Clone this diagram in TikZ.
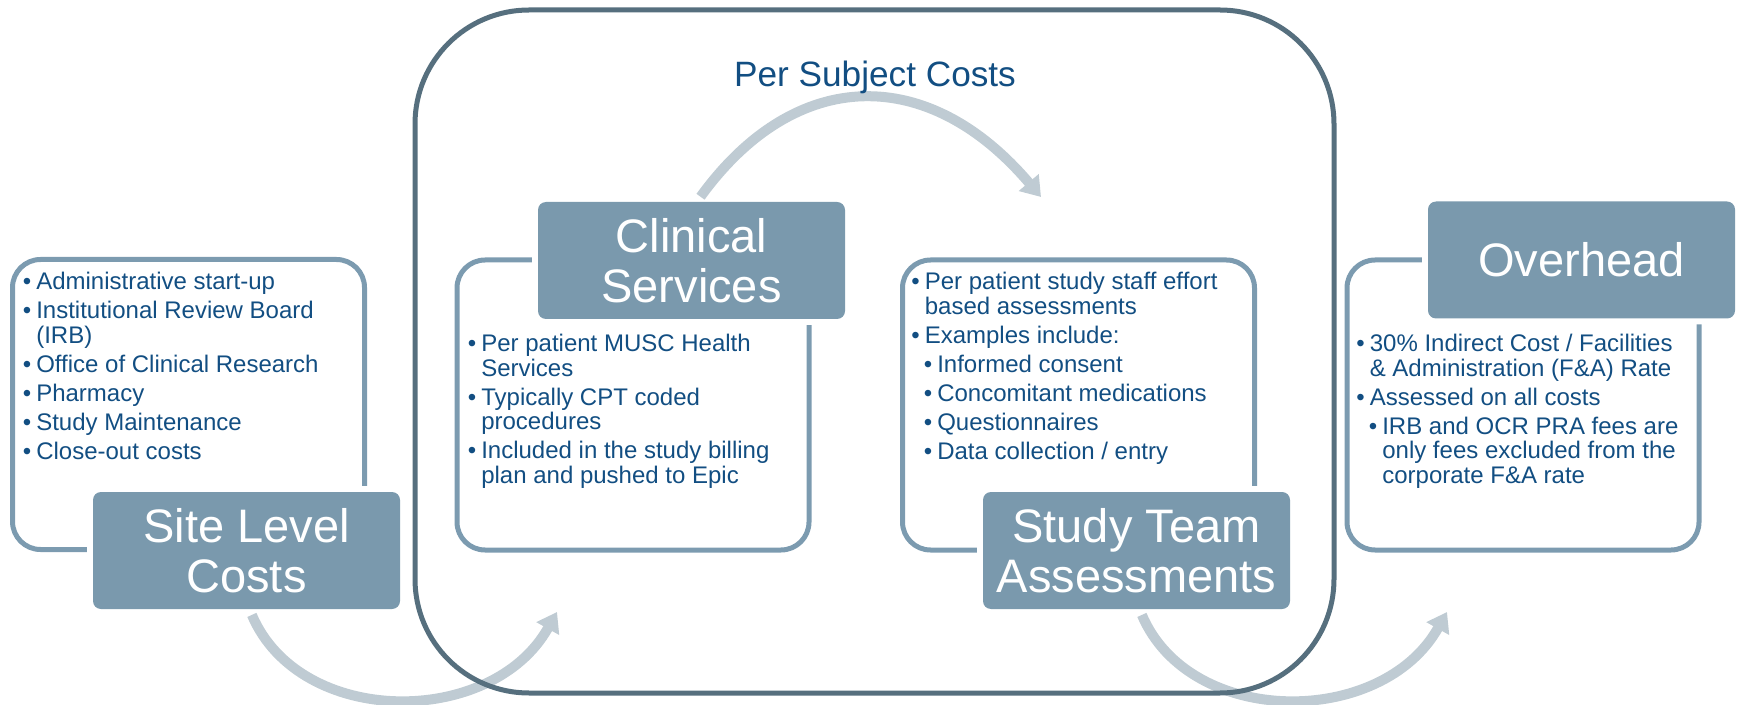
\documentclass[tikz,border=0pt]{standalone}
\usepackage{fontspec}
\setmainfont{Liberation Sans}
\usetikzlibrary{arrows.meta}
\definecolor{boxfill}{HTML}{7A99AD}
\definecolor{boxline}{HTML}{7C9BB0}
\definecolor{frameline}{HTML}{566F7E}
\definecolor{arrowcol}{HTML}{BFCBD3}
\definecolor{txtblue}{HTML}{124E82}
\newcommand{\bitem}[1]{\par\hangindent=6.7pt\hangafter=1\noindent\makebox[6.7pt][l]{\textbullet}#1}
\newcommand{\sitem}[1]{\par\hangindent=12.95pt\hangafter=1\noindent\hspace*{6.25pt}\makebox[6.7pt][l]{\textbullet}#1}
\newenvironment{bodylist}[1]{\begin{minipage}[t]{#1}\fontsize{12}{12.25}\selectfont\raggedright\parskip=2.25pt\relax}{\end{minipage}}
\begin{document}
\begin{tikzpicture}[x=0.5pt,y=-0.5pt,
  titlebox/.style={fill=boxfill, rounded corners=4pt, text=white, align=center,
    font=\fontsize{23.5}{25}\selectfont, minimum width=153.5pt, minimum height=58.5pt,
    inner sep=0pt, preaction={draw=white, line width=6pt}},
  outlinebox/.style={draw=boxline, line width=2.5pt, rounded corners=14pt,
    minimum width=176pt, minimum height=145pt, inner sep=0pt},
  bodytext/.style={anchor=base west, inner sep=0pt, text=txtblue},
  flowarrow/.style={draw=arrowcol, line width=5pt, shorten <=3pt,
    -{Triangle[length=9.5pt,width=12.5pt]}},
  framebox/.style={draw=frameline, line width=2.5pt, rounded corners=57pt,
    minimum width=459.5pt, minimum height=341.5pt, inner sep=0pt}
]
\useasboundingbox (0,0) rectangle (1739,705);

% outline boxes
\node[outlinebox] (siteout) at (188.5,404.5) {};
\node[outlinebox] (clinout) at (633,405) {};
\node[outlinebox] (studyout) at (1078.5,405) {};
\node[outlinebox] (overout) at (1523,405) {};

% body texts
\node[bodytext] (sitetext) at (22.5,290) {\begin{bodylist}{170pt}
\bitem{Administrative start-up}
\bitem{Institutional Review Board\newline(IRB)}
\bitem{Office of Clinical Research}
\bitem{Pharmacy}
\bitem{Study Maintenance}
\bitem{Close-out costs}
\end{bodylist}};

\node[bodytext] (clintext) at (467.5,352) {\begin{bodylist}{170pt}
\bitem{Per patient MUSC Health\newline Services}
\bitem{Typically CPT coded\newline procedures}
\bitem{Included in the study billing\newline plan and pushed to Epic}
\end{bodylist}};

\node[bodytext] (studytext) at (911,290) {\begin{bodylist}{170pt}
\bitem{Per patient study staff effort\newline based assessments}
\bitem{Examples include:}
\sitem{Informed consent}
\sitem{Concomitant medications}
\sitem{Questionnaires}
\sitem{Data collection / entry}
\end{bodylist}};

\node[bodytext] (overtext) at (1356,352) {\begin{bodylist}{170pt}
\bitem{30\% Indirect Cost / Facilities\newline\& Administration (F\&A) Rate}
\bitem{Assessed on all costs}
\sitem{IRB and OCR PRA fees are\newline only fees excluded from the\newline corporate F\&A rate}
\end{bodylist}};

% title boxes
\node[titlebox] (site) at (246.5,550.5) {Site Level\\Costs};
\node[titlebox] (clinical) at (691.5,260.5) {Clinical\\Services};
\node[titlebox] (study) at (1136.5,550.5) {Study Team\\Assessments};
\node[titlebox] (overhead) at (1581.5,260) {Overhead};

% arrow free ends
\coordinate (a1tip) at (557,612);
\coordinate (a2tip) at (1041,197);
\coordinate (a3tip) at (1447,612);

% arrows
\draw[flowarrow] ([xshift=1.5pt]site.south) .. controls (300,728) and (492,728) .. (a1tip);
\draw[flowarrow] ([xshift=2.75pt]clinical.north) .. controls (796,65) and (929,65) .. (a2tip);
\draw[flowarrow] ([xshift=1.5pt]study.south) .. controls (1190,728) and (1382,728) .. (a3tip);

% big frame
\node[framebox] (frame) at (874.5,351.5) {};
\node[text=txtblue, font=\fontsize{17.6}{20}\selectfont, anchor=base, inner sep=0pt] (pertitle) at (875,87) {Per Subject Costs};
\end{tikzpicture}
\end{document}
